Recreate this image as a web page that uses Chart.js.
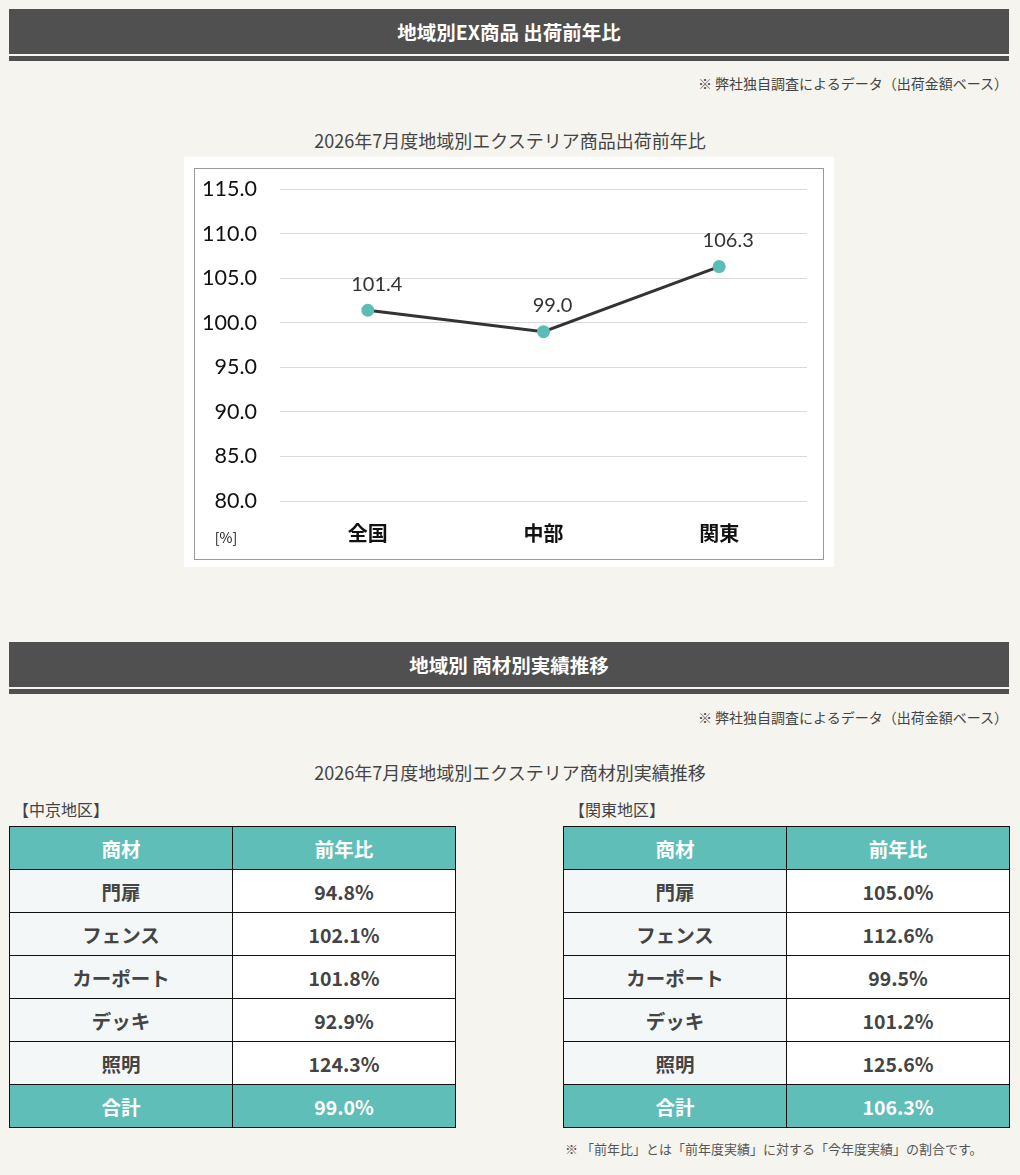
<!DOCTYPE html>
<html><head><meta charset="utf-8">
<script src="https://cdn.jsdelivr.net/npm/chart.js@4.4.1/dist/chart.umd.min.js"></script>
<style>
html,body{margin:0;padding:0}
body{background:#f5f4ef;width:1020px;height:1175px;position:relative;overflow:hidden;font-family:"Noto Sans CJK JP","Noto Sans",sans-serif;color:#444}
.hbar{position:absolute;left:9px;width:1000px;height:45px;background:#505050;color:#fff;font-weight:bold;font-size:19.5px;line-height:45px;text-align:center}
.hline{position:absolute;left:9px;width:1000px;height:5px;background:#505050}
.note{position:absolute;right:12px;font-size:14px;color:#444;line-height:20px}
.title{position:absolute;left:0;width:1020px;text-align:center;font-size:18px;color:#444;line-height:24px}
.lbl{position:absolute;font-size:16px;color:#444;line-height:20px}
.box{position:absolute;left:184px;top:157px;width:650px;height:410px;background:#fff}
.frame{position:absolute;left:194px;top:168px;width:628px;height:390px;border:1px solid #9a9a9a}
table{position:absolute;border-collapse:collapse;table-layout:fixed;width:446px}
td,th{border:1px solid #111;height:42px;padding:0;text-align:center;font-size:19.5px;font-weight:bold;color:#444;vertical-align:middle}
th,tr.tot td{background:#5fbeb7;color:#fff}
td.c1{background:#f4f7f7}
td.c2{background:#fff}
.foot{position:absolute;left:565px;top:1139px;font-size:13px;color:#555;line-height:20px}
</style></head>
<body>
<div class="hbar" style="top:9px">地域別EX商品 出荷前年比</div>
<div class="hline" style="top:56px"></div>
<div class="note" style="top:73px">※ 弊社独自調査によるデータ（出荷金額ベース）</div>
<div class="title" style="top:128px">2026年7月度地域別エクステリア商品出荷前年比</div>
<div class="box"></div>
<div class="frame"><canvas id="c" width="628" height="390" style="width:628px;height:390px;display:block"></canvas></div>

<div class="hbar" style="top:642px">地域別 商材別実績推移</div>
<div class="hline" style="top:689px"></div>
<div class="note" style="top:707px">※ 弊社独自調査によるデータ（出荷金額ベース）</div>
<div class="title" style="top:760px">2026年7月度地域別エクステリア商材別実績推移</div>
<div class="lbl" style="left:13px;top:799px">【中京地区】</div>
<div class="lbl" style="left:569px;top:799px">【関東地区】</div>
<table id="t1" style="left:9px;top:826px"></table>
<table id="t2" style="left:563px;top:826px"></table>
<div class="foot">※ 「前年比」とは「前年度実績」に対する「今年度実績」の割合です。</div>

<script>
// ---- chart data ----
const regions = ['全国', '中部', '関東'];
const yoy = [101.4, 99.0, 106.3];
const yTicks = [80, 85, 90, 95, 100, 105, 110, 115];

// ---- table data ----
const tableHeader = ['商材', '前年比'];
const materials = ['門扉', 'フェンス', 'カーポート', 'デッキ', '照明'];
const chukyoValues = ['94.8%', '102.1%', '101.8%', '92.9%', '124.3%'];
const kantoValues = ['105.0%', '112.6%', '99.5%', '101.2%', '125.6%'];
const totalLabel = '合計';
const chukyoTotal = '99.0%';
const kantoTotal = '106.3%';

function buildTable(id, values, total) {
  const t = document.getElementById(id);
  let h = '<colgroup><col style="width:223px"><col style="width:223px"></colgroup>';
  h += '<tr><th>' + tableHeader[0] + '</th><th>' + tableHeader[1] + '</th></tr>';
  materials.forEach((m, i) => {
    h += '<tr><td class="c1">' + m + '</td><td class="c2">' + values[i] + '</td></tr>';
  });
  h += '<tr class="tot"><td>' + totalLabel + '</td><td>' + total + '</td></tr>';
  t.innerHTML = h;
}
buildTable('t1', chukyoValues, chukyoTotal);
buildTable('t2', kantoValues, kantoTotal);

const labelPlugin = {
  id: 'labels',
  afterDatasetsDraw(chart) {
    const ctx = chart.ctx;
    const meta = chart.getDatasetMeta(0);
    ctx.save();
    ctx.font = '20px Lato, "Open Sans", sans-serif';
    ctx.fillStyle = '#333';
    ctx.textAlign = 'center';
    ctx.textBaseline = 'middle';
    meta.data.forEach((p, i) => {
      ctx.fillText(yoy[i].toFixed(1), p.x + 9, p.y - 26);
    });
    ctx.font = '14px "Noto Sans CJK JP", sans-serif';
    ctx.fillStyle = '#111';
    ctx.fillText('[%]', 31, 369);
    ctx.restore();
  }
};

new Chart(document.getElementById('c'), {
  type: 'line',
  data: {
    labels: regions,
    datasets: [{
      data: yoy,
      borderColor: '#333333',
      borderWidth: 3,
      pointBackgroundColor: '#5bbdb5',
      pointBorderColor: '#5bbdb5',
      pointRadius: 5,
      pointHoverRadius: 5,
      tension: 0
    }]
  },
  options: {
    responsive: false,
    animation: false,
    devicePixelRatio: 1,
    layout: { padding: { left: 0, right: 16, top: 20, bottom: 0 } },
    plugins: { legend: { display: false }, tooltip: { enabled: false } },
    scales: {
      x: {
        offset: true,
        grid: { display: false, drawTicks: false },
        border: { display: false },
        ticks: { padding: 20, color: '#111', font: { family: '"Noto Sans CJK JP", sans-serif', size: 20, weight: 'bold' } },
        afterFit(s) { s.height = 58; }
      },
      y: {
        min: 80, max: 115,
        afterBuildTicks(s) { s.ticks = yTicks.map(v => ({ value: v })); },
        grid: { color: '#d9d9d9', lineWidth: 1, drawTicks: false },
        border: { display: false },
        ticks: { padding: 23, color: '#111', font: { family: 'Lato, "Open Sans", sans-serif', size: 21.5 }, callback: v => Number(v).toFixed(1) },
        afterFit(s) { s.width = 85; s.paddingTop = 0; s.paddingBottom = 0; }
      }
    }
  },
  plugins: [labelPlugin]
});
</script>
</body></html>
